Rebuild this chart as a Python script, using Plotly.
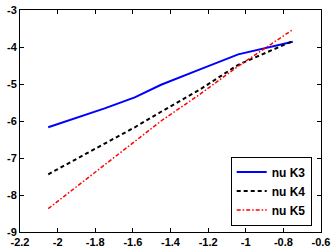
import plotly.graph_objects as go

x = [-2.05, -1.75, -1.59, -1.45, -1.25, -1.04, -0.75]
k3 = [-6.17, -5.66, -5.36, -5.02, -4.62, -4.20, -3.86]
k4 = [-7.44, -6.60, -6.17, -5.75, -5.17, -4.48, -3.84]
k5 = [-8.37, -7.18, -6.56, -6.00, -5.30, -4.52, -3.53]
names = ["nu K3", "nu K4", "nu K5"]

xticks = [-2.2, -2.0, -1.8, -1.6, -1.4, -1.2, -1.0, -0.8, -0.6]
xticklabels = ["-2.2", "-2", "-1.8", "-1.6", "-1.4", "-1.2", "-1", "-0.8", "-0.6"]
yticks = [-9, -8, -7, -6, -5, -4, -3]
yticklabels = ["-9", "-8", "-7", "-6", "-5", "-4", "-3"]

FONT = "Liberation Sans, Arial"

fig = go.Figure()
fig.add_trace(go.Scatter(x=x, y=k3, mode="lines", name=names[0],
                         line=dict(color="#0000ff", width=2, dash="solid")))
fig.add_trace(go.Scatter(x=x, y=k4, mode="lines", name=names[1],
                         line=dict(color="#000000", width=2, dash="4px,3px")))
fig.add_trace(go.Scatter(x=x, y=k5, mode="lines", name=names[2],
                         line=dict(color="#ff0000", width=1.5, dash="4px,2px,1.5px,2px")))

axis_common = dict(showgrid=False, zeroline=False, showline=True, linecolor="black",
                   linewidth=1, mirror="ticks", ticks="inside", ticklen=4,
                   tickcolor="black", ticklabeloverflow="allow",
                   tickfont=dict(family=FONT, size=11, color="black", weight="bold"))
fig.update_xaxes(range=[-2.2, -0.6], tickvals=xticks, ticktext=xticklabels, **axis_common)
fig.update_yaxes(range=[-9, -3], tickvals=yticks, ticktext=yticklabels, **axis_common)

fig.update_layout(
    width=334, height=252,
    margin=dict(l=20, r=7, t=4, b=19),
    plot_bgcolor="white", paper_bgcolor="white",
    legend=dict(x=0.70, y=0.34, xanchor="left", yanchor="top",
                bgcolor="white", bordercolor="black", borderwidth=1,
                font=dict(family=FONT, size=12, color="black", weight="bold"),
                itemwidth=30, tracegroupgap=0),
    font=dict(family=FONT),
)
fig.write_html("out.html")
